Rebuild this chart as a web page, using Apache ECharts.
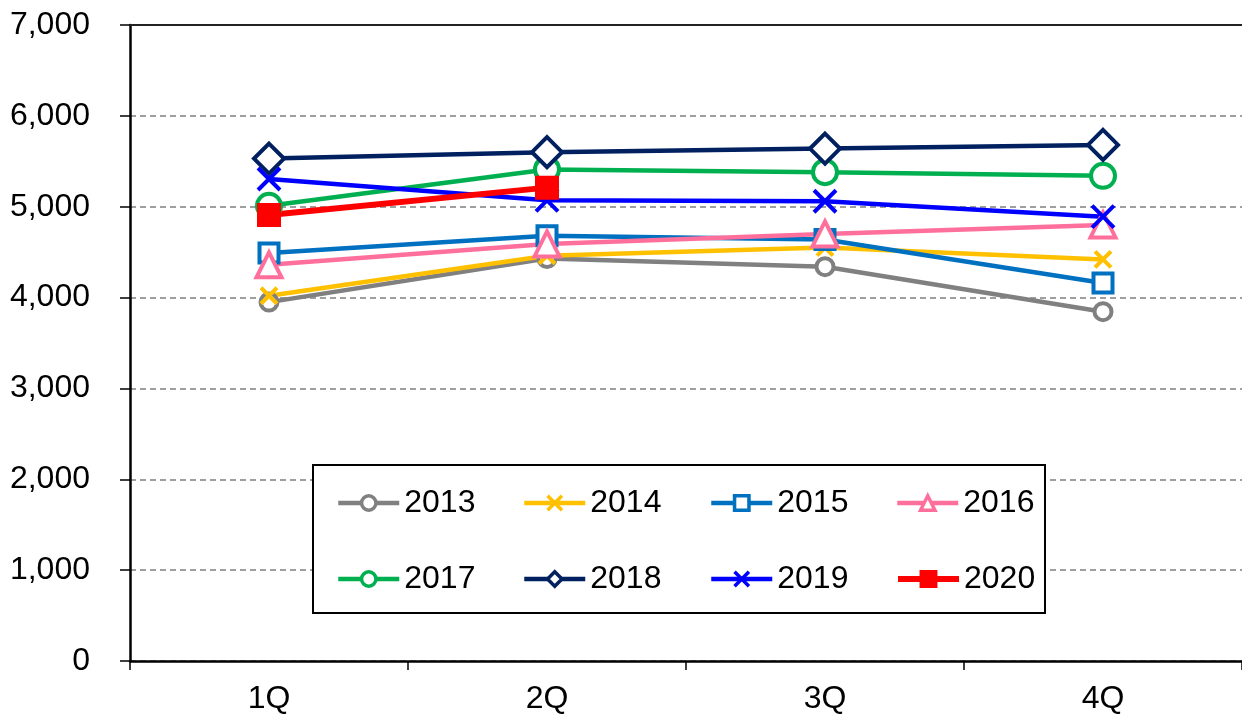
<!DOCTYPE html>
<html>
<head>
<meta charset="utf-8">
<script src="https://cdn.jsdelivr.net/npm/echarts@6/dist/echarts.min.js"></script>
<style>
  html, body { margin: 0; padding: 0; background: #fff; }
  #chart { width: 1242px; height: 715px; }
</style>
</head>
<body>
<div id="chart"></div>
<script>
const quarters = ['1Q', '2Q', '3Q', '4Q']
const years = ['2013', '2014', '2015', '2016', '2017', '2018', '2019', '2020']
const y2013 = [3950, 4430, 4340, 3845]
const y2014 = [4020, 4460, 4550, 4420]
const y2015 = [4490, 4680, 4640, 4160]
const y2016 = [4360, 4590, 4700, 4800]
const y2017 = [5010, 5410, 5380, 5340]
const y2018 = [5530, 5600, 5640, 5680]
const y2019 = [5305, 5070, 5060, 4890]
const y2020 = [4910, 5210]
const yTicks = [0, 1000, 2000, 3000, 4000, 5000, 6000, 7000]

const cross = 'path://M0,0L10,10M10,0L0,10'
const styles = [
  { color: '#808080', symbol: 'circle', size: 17, fill: '#fff', width: 4.5 },
  { color: '#FFC000', symbol: cross, size: 16, fill: '#FFC000', width: 4.5 },
  { color: '#0070C0', symbol: 'rect', size: 19, fill: '#fff', width: 4.5 },
  { color: '#FF6F9C', symbol: 'triangle', size: 25, fill: '#fff', width: 4.5 },
  { color: '#00B050', symbol: 'circle', size: 24, fill: '#fff', width: 4.5 },
  { color: '#002060', symbol: 'diamond', size: 30, fill: '#fff', width: 4.5 },
  { color: '#0000FF', symbol: cross, size: 22, fill: '#0000FF', width: 4.5 },
  { color: '#FF0000', symbol: 'rect', size: 20, fill: '#FF0000', width: 6 }
]
const values = [y2013, y2014, y2015, y2016, y2017, y2018, y2019, y2020]

const font = 'Liberation Sans, Arial, sans-serif'

const series = years.map((name, i) => ({
  name: name,
  type: 'line',
  data: values[i],
  symbol: styles[i].symbol,
  symbolSize: styles[i].size,
  lineStyle: { color: styles[i].color, width: styles[i].width },
  itemStyle: {
    color: styles[i].fill,
    borderColor: styles[i].color,
    borderWidth: 4
  },
  emphasis: { disabled: true },
  animation: false
}))

// one legend per entry, laid out in a 4x2 table
const legendLeft = [336, 522, 709, 895]
const legendTop = [487, 563]
const legends = years.map((name, i) => ({
  data: [name],
  left: legendLeft[i % 4],
  top: legendTop[Math.floor(i / 4)],
  itemWidth: 61,
  itemHeight: 18,
  itemGap: 0,
  padding: 0,
  selectedMode: false,
  lineStyle: { width: i === 7 ? 6 : 4.5 },
  itemStyle: { borderWidth: 3.5 },
  textStyle: { fontFamily: font, fontSize: 32, color: '#000' },
  z: 10
}))

const chart = echarts.init(document.getElementById('chart'))
chart.setOption({
  backgroundColor: '#fff',
  animation: false,
  grid: { left: 130, right: -3, top: 25, bottom: 54 },
  xAxis: [{
    type: 'category',
    data: quarters,
    boundaryGap: true,
    axisLine: { lineStyle: { color: '#000', width: 2.5 } },
    axisTick: { show: true, length: 9, lineStyle: { color: '#000', width: 1.5 } },
    axisLabel: { color: '#000', fontFamily: font, fontSize: 32, margin: 22 }
  }, {
    // solid frame line along the top
    type: 'category',
    position: 'top',
    data: quarters,
    axisLine: { lineStyle: { color: '#222', width: 2 } },
    axisTick: { show: false },
    axisLabel: { show: false }
  }],
  yAxis: {
    type: 'value',
    min: yTicks[0],
    max: yTicks[yTicks.length - 1],
    interval: 1000,
    axisLine: { show: true, lineStyle: { color: '#000', width: 2.5 } },
    axisTick: { show: true, length: 10, lineStyle: { color: '#000', width: 1.5 } },
    axisLabel: {
      color: '#000', fontFamily: font, fontSize: 32, margin: 40,
      formatter: v => v.toLocaleString('en-US')
    },
    splitLine: { lineStyle: { color: '#808080', width: 1.5, type: [6, 4] } }
  },
  legend: legends,
  graphic: [{
    type: 'rect',
    shape: { x: 313, y: 465, width: 732, height: 148 },
    style: { fill: '#fff', stroke: '#000', lineWidth: 2 },
    z: 5
  }],
  series: series
})
</script>
</body>
</html>
